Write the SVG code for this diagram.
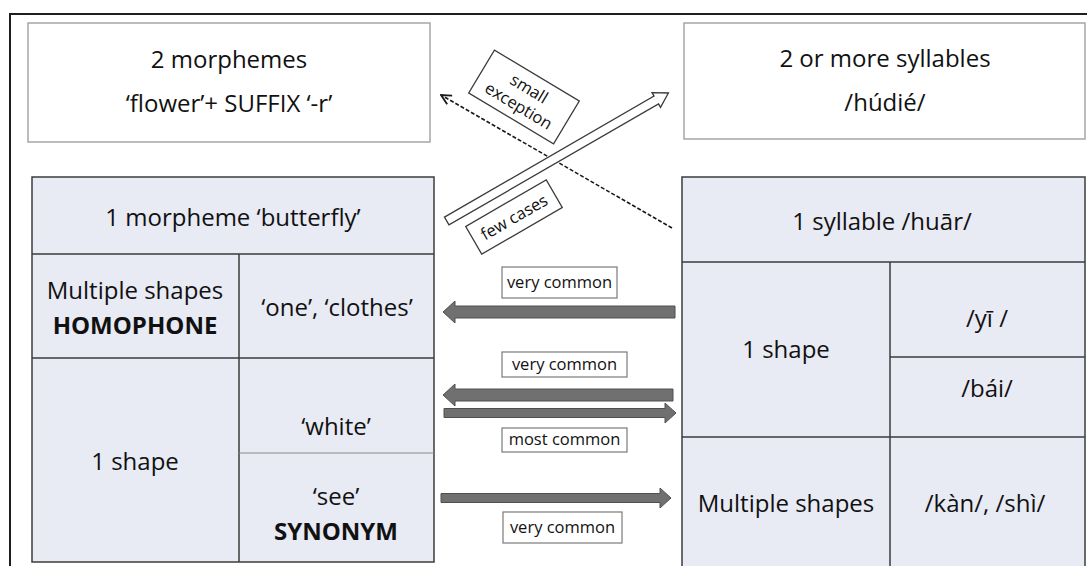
<svg xmlns="http://www.w3.org/2000/svg" width="1087" height="566" viewBox="0 0 1087 566">
  <style>
    text { font-family: "Open Sans", "Noto Sans", "Liberation Sans", sans-serif; fill: #111111; text-anchor: middle; }
    .big { font-size: 24px; }
    .bold { font-weight: bold; }
    .small { font-size: 16.5px; }
    .plain { fill: #ffffff; stroke: #a6a6a6; stroke-width: 1.5; }
    .cell { fill: #e8eaf4; stroke: #3c3c3c; stroke-width: 1.5; }
    .grid { stroke: #3c3c3c; stroke-width: 1.5; fill: none; }
    .thin { stroke: #8a8a8a; stroke-width: 1.2; fill: none; }
    .tag { fill: #ffffff; stroke: #7a7a7a; stroke-width: 1.2; }
    .tilt { fill: #ffffff; stroke: #3a3a3a; stroke-width: 1.3; }
    .block { fill: #707070; stroke: #505050; stroke-width: 1; }
    .hollow { fill: #ffffff; stroke: #3a3a3a; stroke-width: 1.3; }
    .dash { stroke: #1a1a1a; stroke-width: 1.6; stroke-dasharray: 4 2; fill: none; }
  </style>
  <defs>
    <marker id="openHead" viewBox="0 0 12 12" refX="11" refY="6" markerWidth="12" markerHeight="12" markerUnits="userSpaceOnUse" orient="auto">
      <path d="M1,1 L11,6 L1,11" fill="none" stroke="#1a1a1a" stroke-width="1.8"/>
    </marker>
  </defs>

  <rect width="1087" height="566" fill="#ffffff"/>
  <!-- frame -->
  <path d="M10,566 L10,14 L1087,14" fill="none" stroke="#1e1e1e" stroke-width="2"/>

  <!-- top left: two morphemes -->
  <g id="morphemes-two">
    <rect class="plain" x="28" y="23" width="402" height="119"/>
    <text class="big" x="229" y="68">2 morphemes</text>
    <text class="big" x="229" y="112">‘flower’+ SUFFIX ‘-r’</text>
  </g>

  <!-- top right: two or more syllables -->
  <g id="syllables-many">
    <rect class="plain" x="684" y="23" width="401" height="116"/>
    <text class="big" x="885" y="67">2 or more syllables</text>
    <text class="big" x="885" y="111">/húdié/</text>
  </g>

  <!-- left table: one morpheme -->
  <g id="morpheme-one">
    <rect class="cell" x="32" y="177" width="402" height="385"/>
    <path class="grid" d="M32,254 H434 M32,358 H434 M239,254 V562"/>
    <path class="thin" d="M239,453 H434"/>
    <text class="big" x="233" y="226">1 morpheme ‘butterfly’</text>
    <text class="big" x="135" y="299">Multiple shapes</text>
    <text class="big bold" x="135" y="334">HOMOPHONE</text>
    <text class="big" x="337" y="316">‘one’, ‘clothes’</text>
    <text class="big" x="135" y="470">1 shape</text>
    <text class="big" x="336" y="435">‘white’</text>
    <text class="big" x="336" y="505">‘see’</text>
    <text class="big bold" x="336" y="540">SYNONYM</text>
  </g>

  <!-- right table: one syllable -->
  <g id="syllable-one">
    <rect class="cell" x="682" y="177" width="403" height="395"/>
    <path class="grid" d="M682,262 H1085 M682,437 H1085 M890,262 V572 M890,357 H1085"/>
    <text class="big" x="882" y="230">1 syllable /huār/</text>
    <text class="big" x="786" y="358">1 shape</text>
    <text class="big" x="987" y="327">/yī /</text>
    <text class="big" x="987" y="397">/bái/</text>
    <text class="big" x="786" y="512">Multiple shapes</text>
    <text class="big" x="985" y="512">/kàn/, /shì/</text>
  </g>

  <!-- connectors -->
  <g id="connectors">
    <!-- dashed: one syllable back to two morphemes -->
    <line class="dash" x1="672" y1="228" x2="441" y2="95" marker-end="url(#openHead)"/>
    <!-- hollow: one morpheme to many syllables -->
    <polygon class="hollow" transform="translate(446.7,221) rotate(-30)" points="0,-4.5 242,-4.5 242,-8.5 256,0 242,8.5 242,4.5 0,4.5"/>

    <!-- solid block arrows -->
    <polygon class="block" points="675,306 455,306 455,301 443,312 455,323 455,318 675,318"/>
    <polygon class="block" points="673,389 455,389 455,384 443,395 455,406 455,401 673,401"/>
    <polygon class="block" points="444,408.5 665,408.5 665,403 676,413 665,423 665,417.5 444,417.5"/>
    <polygon class="block" points="441,493.5 660,493.5 660,488 671,498 660,508 660,502.5 441,502.5"/>

    <!-- labels -->
    <g transform="translate(524,97) rotate(31)">
      <rect class="tilt" x="-49.5" y="-25" width="99" height="50"/>
      <text class="small" x="0" y="-4">small</text>
      <text class="small" x="0" y="16">exception</text>
    </g>
    <g transform="translate(514,217) rotate(-30)">
      <rect class="tilt" x="-46.5" y="-16" width="93" height="32"/>
      <text class="small" x="0" y="6">few cases</text>
    </g>
    <rect class="tag" x="502" y="267" width="115" height="31"/>
    <text class="small" x="559.5" y="288">very common</text>
    <rect class="tag" x="502" y="352" width="125" height="25"/>
    <text class="small" x="564.5" y="370">very common</text>
    <rect class="tag" x="502" y="428" width="125" height="24"/>
    <text class="small" x="564.5" y="445">most common</text>
    <rect class="tag" x="503" y="512" width="119" height="31"/>
    <text class="small" x="562.5" y="533">very common</text>
  </g>
</svg>
